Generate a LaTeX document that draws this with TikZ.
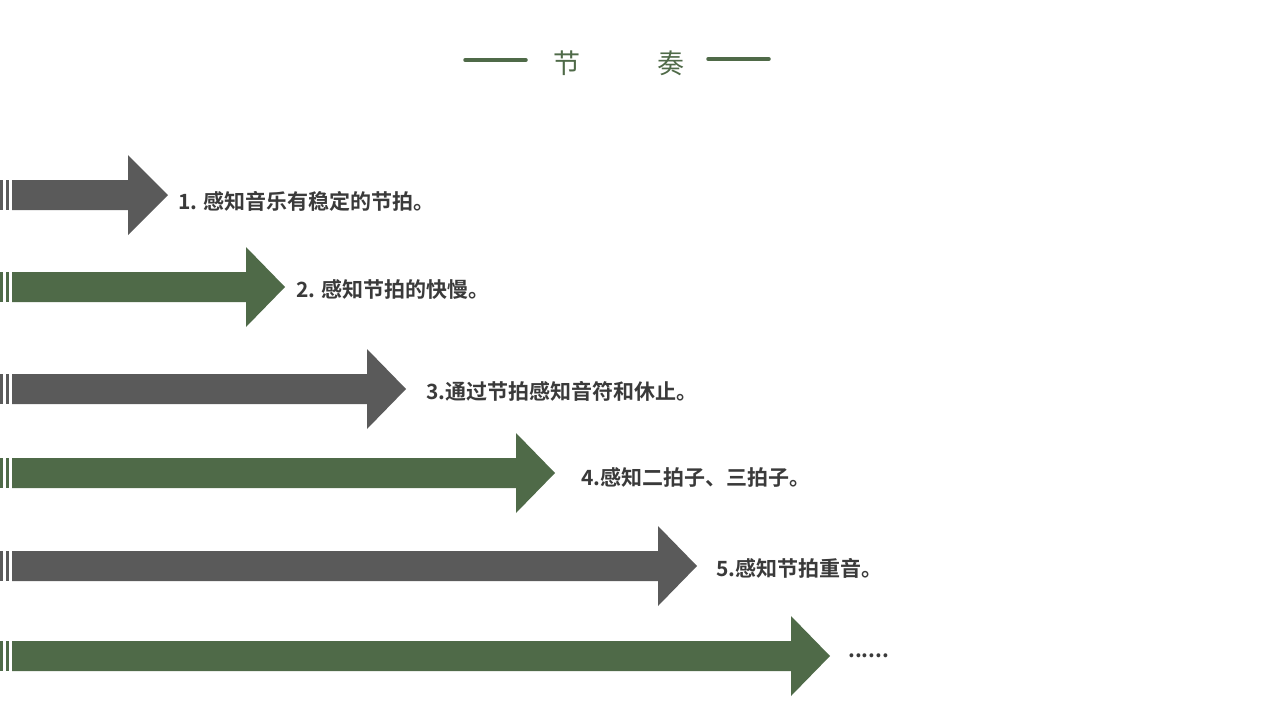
\documentclass[tikz,border=0pt]{standalone}
\usepackage{fontspec}
\setmainfont{Noto Sans CJK SC}
\newfontfamily\cjkbold{Noto Sans CJK SC Bold}
\usetikzlibrary{positioning}
\definecolor{leaf}{HTML}{4F6A48}
\definecolor{slate}{HTML}{5A5A5A}
\definecolor{ink}{HTML}{3A3A3A}
\tikzset{
  lbl/.style={anchor=west, inner sep=0pt, text=ink, font=\cjkbold\fontsize{21}{21}\selectfont},
  rule/.style={leaf, line width=3.5pt, line cap=round}
}
\newcommand{\stepbar}[5]{% name, y, base, tip, colour
  \fill[#5] (0,#2-15) rectangle (3,#2+15);
  \fill[#5] (6,#2-15) rectangle (9,#2+15);
  \fill[#5] (12,#2-15) -- (#3,#2-15) -- (#3,#2-40) -- (#4,#2) -- (#3,#2+40) -- (#3,#2+15) -- (12,#2+15) -- cycle;
  \coordinate (#1) at (#4,#2);
}
\begin{document}
\begin{tikzpicture}[x=1pt,y=-1pt]
    \useasboundingbox (0,0) rectangle (1280,720);
    % Title
    \node[text=leaf, font=\fontsize{27}{27}\selectfont, inner sep=0pt] (title) at (619,63) {节\hspace{77pt}奏};
    \coordinate (la) at (465,60);
    \coordinate (lb) at (526,60);
    \coordinate (ra) at (708,59);
    \coordinate (rb) at (769,59);
    \draw[rule] (la) -- (lb);
    \draw[rule] (ra) -- (rb);

    % Arrows
    \stepbar{a1}{195}{128}{168}{slate}
    \stepbar{a2}{287}{246}{285}{leaf}
    \stepbar{a3}{389}{367}{406}{slate}
    \stepbar{a4}{473}{516}{555}{leaf}
    \stepbar{a5}{566}{658}{697}{slate}
    \stepbar{a6}{656}{791}{830}{leaf}

    % Labels
    \node[lbl, right=10pt of a1, yshift=-6pt] (t1) {1. 感知音乐有稳定的节拍。};
    \node[lbl, right=11pt of a2, yshift=-3pt] (t2) {2. 感知节拍的快慢。};
    \node[lbl, right=20pt of a3, yshift=-2pt] (t3) {3.通过节拍感知音符和休止。};
    \node[lbl, right=26pt of a4, yshift=-4pt] (t4) {4.感知二拍子、三拍子。};
    \node[lbl, right=19pt of a5, yshift=-2pt] (t5) {5.感知节拍重音。};
    \node[lbl, right=18pt of a6] (t6) {......};
\end{tikzpicture}
\end{document}
